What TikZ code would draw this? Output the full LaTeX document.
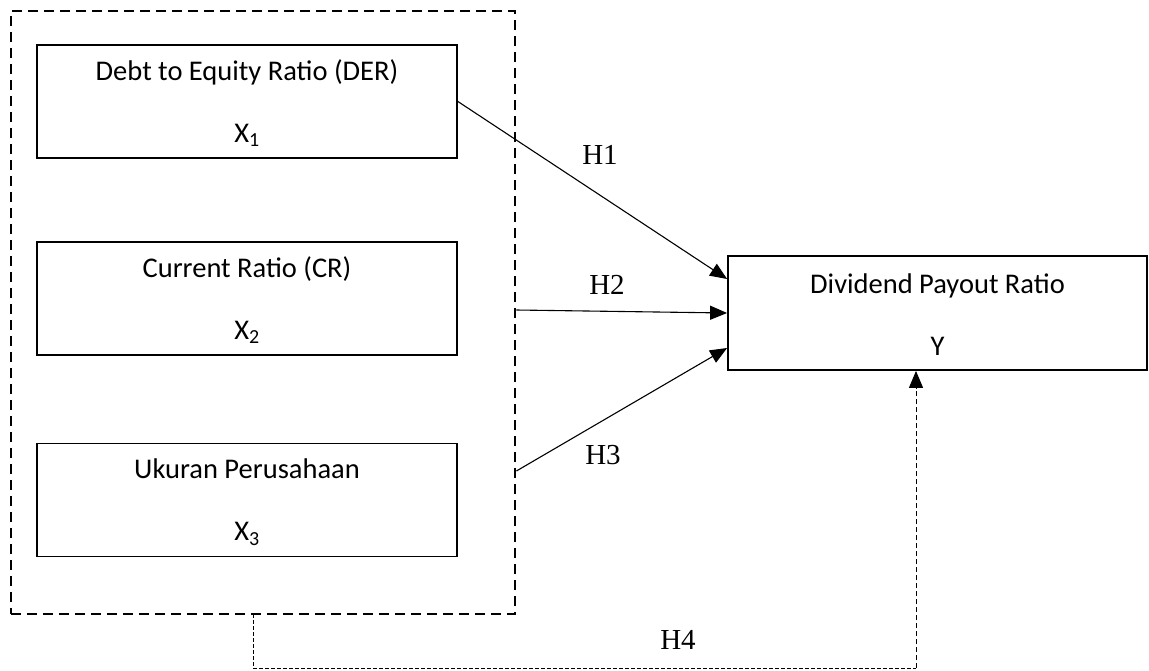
\documentclass[tikz,border=0pt]{standalone}
\usepackage{fontspec}
\setmainfont{Carlito}
\newfontfamily\timesfont{Liberation Serif}
\usetikzlibrary{arrows.meta}
\begin{document}
\begin{tikzpicture}[x=1pt,y=-1pt]
		\tikzstyle{boite}=[draw,line width=1.8pt,minimum width=420pt,minimum height=113pt,align=center,inner sep=0pt,font=\fontsize{28.5}{34}\selectfont]
		\tikzstyle{cadre}=[draw,line width=2.8pt,dash pattern=on 10pt off 6pt,minimum width=504pt,minimum height=603pt,inner sep=0pt]
		\tikzstyle{fleche}=[-{Triangle[length=17pt,width=14pt]},line width=1.1pt]
		\tikzstyle{pointille}=[line width=1pt,dash pattern=on 4pt off 2pt]
		\tikzstyle{etiquette}=[font=\timesfont\fontsize{29}{32}\selectfont]
		\def\EcartLignes{28pt}
		\useasboundingbox (0,0) rectangle (1149,670);
		\node[cadre] (cadre) at (263,312.5) {};
		\node[boite] (X1) at (247,101.5) {\strut Debt to Equity Ratio (DER)\\[\EcartLignes]X\textsubscript{1}};
		\node[boite] (X2) at (247,298.5) {\strut Current Ratio (CR)\\[\EcartLignes]X\textsubscript{2}};
		\node[boite] (X3) at (247,500) {\strut Ukuran Perusahaan\\[\EcartLignes]X\textsubscript{3}};
		\node[boite,minimum width=419pt,minimum height=114pt] (Y) at (937.5,313) {\strut Dividend Payout Ratio\\[\EcartLignes]Y};
		\coordinate (depH2) at (cadre.east |- 0,310) ;
		\coordinate (depH3) at (cadre.east |- 0,471) ;
		\coordinate (depH4) at (253,614) ;
		\coordinate (coinG) at (253,668) ;
		\coordinate (coinD) at (916,668) ;
		\draw[fleche] (X1.east)--([yshift=34pt]Y.west);
		\draw[fleche] (depH2)--(Y.west);
		\draw[fleche] (depH3)--([yshift=-35pt]Y.west);
		\draw[pointille] (depH4)--(coinG)--(coinD);
		\draw[pointille,-{Triangle[length=17pt,width=14pt]},dash pattern=on 5pt off 3pt] (coinD)--(coinD |- Y.south);
		\node[etiquette] (H1) at (600,155) {H1};
		\node[etiquette] (H2) at (607,285) {H2};
		\node[etiquette] (H3) at (603,455) {H3};
		\node[etiquette] (H4) at (678,640) {H4};
	\end{tikzpicture}
\end{document}
